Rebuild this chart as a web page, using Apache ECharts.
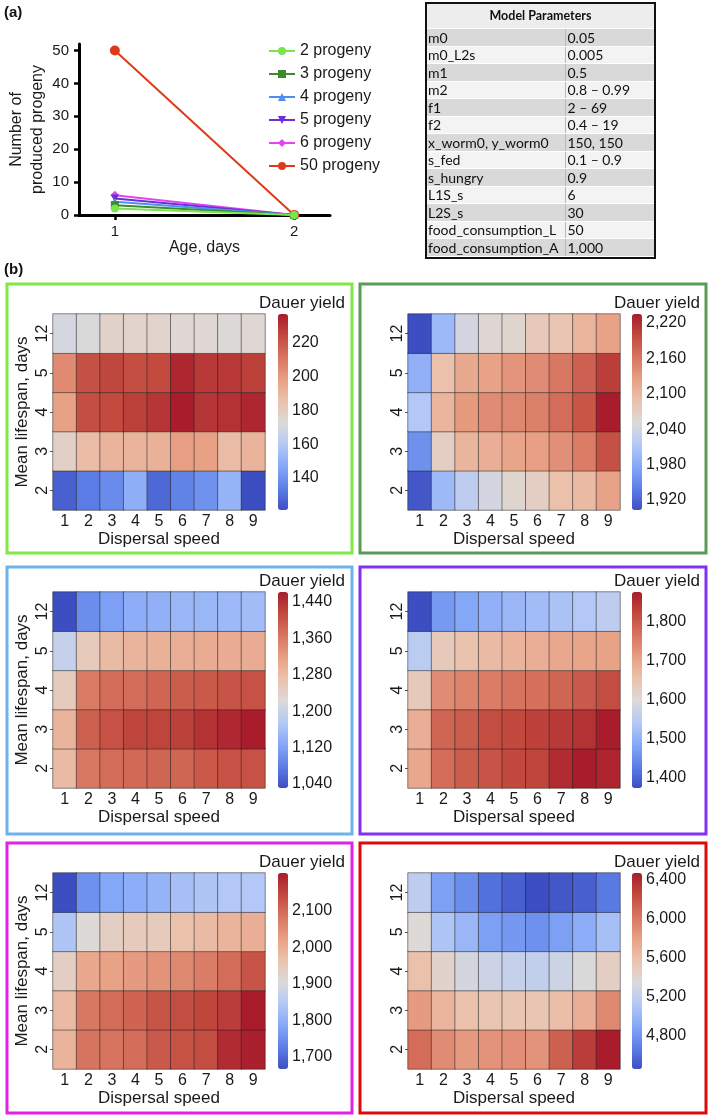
<!DOCTYPE html>
<html>
<head>
<meta charset="utf-8">
<script src="https://cdn.jsdelivr.net/npm/echarts@6/dist/echarts.min.js"></script>
<style>
  html, body { margin: 0; padding: 0; background: #fff; }
  #wrap { position: relative; width: 709px; height: 1115px; }
  #chart { position: absolute; left: 0; top: 0; width: 709px; height: 1115px; }
  #tbl { position: absolute; left: 425px; top: 2px; width: 231px; border: 2px solid #111; box-sizing: border-box;
         font-family: Lato, "Open Sans", sans-serif; font-size: 14px; color: #111; }
  #tbl table { border-collapse: collapse; width: 100%; table-layout: fixed; }
  #tbl td { height: 16.5px; padding: 0 0 0 1px; line-height: 15px; border-bottom: 1px solid #fff; white-space: nowrap; overflow: hidden; }
  #tbl td.v { border-left: 1px solid #b8b8b8; padding-left: 2px; }
  #tbl th { height: 24px; padding: 0; line-height: 16px; font-weight: bold; font-size: 12.5px; background: #ededed; border-bottom: 1px solid #fff; }
  #tbl tr.g td { background: #d9d9d9; }
  #tbl tr.l td { background: #f3f3f3; }
</style>
</head>
<body>
<div id="wrap">
  <div id="chart"></div>
  <div id="tbl"></div>
</div>
<script>
// ---------- Panel (a) data ----------
const ageDays = [1, 2];
const progenySeriesNames = ['2 progeny', '3 progeny', '4 progeny', '5 progeny', '6 progeny', '50 progeny'];
const progeny2 = [2, 0];
const progeny3 = [3, 0];
const progeny4 = [4, 0];
const progeny5 = [5, 0];
const progeny6 = [6, 0];
const progeny50 = [50, 0];
const progenyYTicks = [0, 10, 20, 30, 40, 50];

// ---------- Table ----------
const paramNames = ['m0', 'm0_L2s', 'm1', 'm2', 'f1', 'f2', 'x_worm0, y_worm0', 's_fed', 's_hungry', 'L1S_s', 'L2S_s', 'food_consumption_L', 'food_consumption_A'];
const paramValues = ['0.05', '0.005', '0.5', '0.8 \u2013 0.99', '2 \u2013 69', '0.4 \u2013 19', '150, 150', '0.1 \u2013 0.9', '0.9', '6', '30', '50', '1,000'];

// ---------- Panel (b) data ----------
const speedCats = ['1', '2', '3', '4', '5', '6', '7', '8', '9'];
const lifespanCats = ['2', '3', '4', '5', '12'];

// rows: lifespan 2, 3, 4, 5, 12 ; columns: dispersal speed 1..9
const yieldP2 = [
  [126, 133, 138, 149, 128, 135, 140, 151, 121],
  [178, 188, 191, 191, 192, 199, 198, 188, 191],
  [198, 223, 224, 227, 230, 237, 230, 231, 234],
  [205, 222, 225, 223, 224, 234, 229, 229, 227],
  [170, 172, 177, 176, 176, 174, 174, 173, 174]
];
const rangeP2 = [121, 237];
const ticksP2 = [140, 160, 180, 200, 220];

const yieldP3 = [
  [1910, 1996, 2023, 2042, 2059, 2069, 2089, 2096, 2122],
  [1956, 2069, 2102, 2109, 2119, 2125, 2139, 2155, 2192],
  [2013, 2102, 2129, 2142, 2145, 2152, 2169, 2188, 2235],
  [1986, 2089, 2115, 2122, 2135, 2142, 2159, 2179, 2208],
  [1903, 1996, 2042, 2056, 2059, 2076, 2082, 2102, 2122]
];
const rangeP3 = [1903, 2235];
const ticksP3 = [1920, 1980, 2040, 2100, 2160, 2220];

const yieldP4 = [
  [1281, 1363, 1376, 1380, 1384, 1384, 1397, 1406, 1406],
  [1290, 1389, 1406, 1419, 1419, 1423, 1440, 1449, 1462],
  [1255, 1359, 1376, 1376, 1384, 1393, 1397, 1402, 1406],
  [1195, 1255, 1281, 1290, 1294, 1298, 1303, 1303, 1303],
  [1031, 1096, 1117, 1134, 1139, 1147, 1147, 1152, 1156]
];
const rangeP4 = [1031, 1462];
const ticksP4 = [1040, 1120, 1200, 1280, 1360, 1440];

const yieldP5 = [
  [1696, 1776, 1797, 1807, 1822, 1827, 1857, 1877, 1867],
  [1686, 1786, 1797, 1817, 1822, 1832, 1842, 1852, 1877],
  [1636, 1736, 1746, 1756, 1766, 1771, 1786, 1802, 1817],
  [1550, 1636, 1651, 1666, 1676, 1686, 1696, 1701, 1706],
  [1374, 1465, 1485, 1500, 1510, 1520, 1530, 1540, 1555]
];
const rangeP5 = [1374, 1877];
const ticksP5 = [1400, 1500, 1600, 1700, 1800];

const yieldP6 = [
  [1989, 2085, 2085, 2096, 2123, 2133, 2139, 2182, 2198],
  [1978, 2080, 2096, 2107, 2128, 2139, 2149, 2160, 2203],
  [1935, 2010, 2021, 2031, 2042, 2058, 2074, 2096, 2128],
  [1839, 1908, 1935, 1946, 1946, 1967, 1978, 1989, 1999],
  [1667, 1753, 1785, 1796, 1806, 1828, 1839, 1844, 1844]
];
const rangeP6 = [1667, 2203];
const ticksP6 = [1700, 1800, 1900, 2000, 2100];

const yieldP50 = [
  [6068, 5907, 5827, 5867, 5887, 5867, 6128, 6309, 6470],
  [5827, 5666, 5586, 5545, 5545, 5545, 5606, 5706, 5927],
  [5586, 5425, 5304, 5264, 5224, 5204, 5264, 5344, 5465],
  [5365, 5103, 5003, 4862, 4822, 4782, 4862, 4942, 5063],
  [5184, 4862, 4762, 4621, 4540, 4460, 4500, 4540, 4661]
];
const rangeP50 = [4460, 6470];
const ticksP50 = [4800, 5200, 5600, 6000, 6400];

// ---------- Table build ----------
(function () {
  let h = '<table><colgroup><col style="width:138px"><col></colgroup><tr><th colspan="2">Model Parameters</th></tr>';
  paramNames.forEach((n, i) => {
    h += '<tr class="' + (i % 2 === 0 ? 'g' : 'l') + '"><td class="n">' + n + '</td><td class="v">' + paramValues[i] + '</td></tr>';
  });
  h += '</table>';
  document.getElementById('tbl').innerHTML = h;
})();

// ---------- Chart ----------
const FONT = '"Liberation Sans", Arial, Helvetica, sans-serif';
const TXT = '#1a1a1a';
const colorRamp = ['#3d4ec2', '#5c7fe6', '#86a8f8', '#b4c9f6', '#dcdad9', '#ebc2ad', '#e8a084', '#d77560', '#c24a3e', '#a81c2c'];

const chart = echarts.init(document.getElementById('chart'), null, { renderer: 'canvas' });

const grid = [], xAxis = [], yAxis = [], series = [], visualMap = [], graphic = [];

// Panel (a) line chart
grid.push({ left: 79, top: 44, width: 251, height: 171 });
xAxis.push({
  type: 'value', gridIndex: 0, min: 0.8, max: 2.2,
  name: 'Age, days', nameLocation: 'middle', nameGap: 24,
  nameTextStyle: { fontFamily: FONT, fontSize: 16, color: TXT },
  axisLine: { onZero: false, lineStyle: { color: '#000', width: 3 } },
  axisTick: { customValues: ageDays, length: 5, lineStyle: { color: '#000', width: 2.5 } },
  axisLabel: { customValues: ageDays, fontFamily: FONT, fontSize: 15, color: TXT, margin: 9 },
  splitLine: { show: false }
});
yAxis.push({
  type: 'value', gridIndex: 0, min: 0, max: 52,
  name: 'Number of\nproduced progeny', nameLocation: 'middle', nameGap: 29,
  nameTextStyle: { fontFamily: FONT, fontSize: 16, color: TXT, lineHeight: 21 },
  axisLine: { show: true, lineStyle: { color: '#000', width: 3 } },
  axisTick: { customValues: progenyYTicks, length: 5, lineStyle: { color: '#000', width: 2.5 } },
  axisLabel: { customValues: progenyYTicks, fontFamily: FONT, fontSize: 15, color: TXT, margin: 10 },
  splitLine: { show: false }
});

const lineDefs = [
  { name: progenySeriesNames[0], vals: progeny2, color: '#7be44c', symbol: 'circle', size: 8, z: 8 },
  { name: progenySeriesNames[1], vals: progeny3, color: '#3d8a2c', symbol: 'rect', size: 8, z: 6 },
  { name: progenySeriesNames[2], vals: progeny4, color: '#4d8ff0', symbol: 'triangle', size: 8, z: 5 },
  { name: progenySeriesNames[3], vals: progeny5, color: '#6a2fd6', symbol: 'path://M0,0L10,0L5,9Z', size: 8, z: 4 },
  { name: progenySeriesNames[4], vals: progeny6, color: '#e045f0', symbol: 'diamond', size: 9, z: 3 },
  { name: progenySeriesNames[5], vals: progeny50, color: '#dd3a1c', symbol: 'circle', size: 10, z: 2 }
];
lineDefs.forEach(d => {
  series.push({
    type: 'line', name: d.name, xAxisIndex: 0, yAxisIndex: 0, z: d.z,
    data: ageDays.map((a, i) => [a, d.vals[i]]),
    symbol: d.symbol, symbolSize: d.size,
    itemStyle: { color: d.color },
    lineStyle: { color: d.color, width: 2 },
    emphasis: { disabled: true }, animation: false
  });
});

const legend = {
  orient: 'vertical', left: 268, top: 42, padding: 0, itemWidth: 26, itemHeight: 10, itemGap: 5,
  data: progenySeriesNames,
  textStyle: { fontFamily: FONT, fontSize: 16, color: TXT, lineHeight: 18 }
};

// Panel (b) heatmaps
const panels = [
  { vals: yieldP2, range: rangeP2, ticks: ticksP2, gx: 53, cbx: 278, gy: 314, box: [7, 284, 345, 269], boxColor: '#80e844', yName: true, titleX: 345, titleY: 303 },
  { vals: yieldP3, range: rangeP3, ticks: ticksP3, gx: 408, cbx: 632, gy: 314, box: [360, 284, 346, 269], boxColor: '#5b9b58', yName: false, titleX: 700, titleY: 303 },
  { vals: yieldP4, range: rangeP4, ticks: ticksP4, gx: 53, cbx: 278, gy: 592, box: [7, 567, 345, 267], boxColor: '#6cb2ec', yName: true, titleX: 345, titleY: 581 },
  { vals: yieldP5, range: rangeP5, ticks: ticksP5, gx: 408, cbx: 632, gy: 592, box: [360, 567, 346, 267], boxColor: '#8230f2', yName: false, titleX: 700, titleY: 581 },
  { vals: yieldP6, range: rangeP6, ticks: ticksP6, gx: 53, cbx: 278, gy: 873, box: [7, 843, 345, 270], boxColor: '#e021e6', yName: true, titleX: 345, titleY: 862 },
  { vals: yieldP50, range: rangeP50, ticks: ticksP50, gx: 408, cbx: 632, gy: 873, box: [360, 843, 346, 270], boxColor: '#dc0a0a', yName: false, titleX: 700, titleY: 862 }
];

const fmt = v => Number(v).toLocaleString('en-US');

panels.forEach((p, k) => {
  const gi = grid.length;
  grid.push({ left: p.gx, top: p.gy, width: 212, height: 196 });
  grid.push({ left: p.cbx, top: p.gy, width: 10, height: 196 });
  xAxis.push({
    type: 'category', gridIndex: gi, data: speedCats,
    name: 'Dispersal speed', nameLocation: 'middle', nameGap: 21,
    nameTextStyle: { fontFamily: FONT, fontSize: 17, color: TXT, verticalAlign: 'top' },
    axisLine: { show: false }, axisTick: { show: false },
    axisLabel: { fontFamily: FONT, fontSize: 16, color: TXT, margin: 4 },
    splitLine: { show: false }
  });
  xAxis.push({ type: 'value', gridIndex: gi + 1, show: false });
  yAxis.push({
    type: 'category', gridIndex: gi, data: lifespanCats,
    name: p.yName ? 'Mean lifespan, days' : '', nameLocation: 'middle', nameGap: 22,
    nameTextStyle: { fontFamily: FONT, fontSize: 17, color: TXT },
    axisLine: { show: false },
    axisTick: { show: true, alignWithLabel: true, length: 3, lineStyle: { color: '#555' } },
    axisLabel: { fontFamily: FONT, fontSize: 16, color: TXT, rotate: 90, margin: 2 },
    splitLine: { show: false }
  });
  yAxis.push({
    type: 'value', gridIndex: gi + 1, position: 'right', min: p.range[0], max: p.range[1],
    axisLine: { show: false },
    axisTick: { show: true, customValues: p.ticks, length: 3, lineStyle: { color: '#555' } },
    axisLabel: { customValues: p.ticks, fontFamily: FONT, fontSize: 16, color: TXT, margin: 4, formatter: fmt },
    splitLine: { show: false }
  });
  const data = [];
  p.vals.forEach((row, r) => row.forEach((v, c) => data.push([c, r, v])));
  const si = series.length;
  series.push({
    type: 'heatmap', xAxisIndex: gi, yAxisIndex: gi, data: data,
    itemStyle: { borderColor: 'rgba(30,30,30,0.5)', borderWidth: 1 },
    emphasis: { disabled: true }, animation: false
  });
  visualMap.push({
    type: 'continuous', seriesIndex: si, min: p.range[0], max: p.range[1],
    left: p.cbx, top: p.gy, itemWidth: 10, itemHeight: 196, padding: 0,
    calculable: false, hoverLink: false, inRange: { color: colorRamp }
  });
  graphic.push({
    type: 'rect', shape: { x: p.box[0], y: p.box[1], width: p.box[2], height: p.box[3] },
    style: { fill: 'none', stroke: p.boxColor, lineWidth: 3 }, silent: true
  });
  graphic.push({
    type: 'text', x: p.titleX, y: p.titleY,
    style: { text: 'Dauer yield', fontFamily: FONT, fontSize: 17, fill: TXT, align: 'right', verticalAlign: 'middle' }
  });
});

graphic.push({ type: 'text', x: 4, y: 13, style: { text: '(a)', fontFamily: FONT, fontSize: 15, fontWeight: 'bold', fill: '#111', verticalAlign: 'middle' } });
graphic.push({ type: 'text', x: 4, y: 270, style: { text: '(b)', fontFamily: FONT, fontSize: 15, fontWeight: 'bold', fill: '#111', verticalAlign: 'middle' } });

chart.setOption({
  animation: false,
  backgroundColor: '#fff',
  grid: grid, xAxis: xAxis, yAxis: yAxis, series: series,
  visualMap: visualMap, legend: legend, graphic: graphic
});
</script>
</body>
</html>
